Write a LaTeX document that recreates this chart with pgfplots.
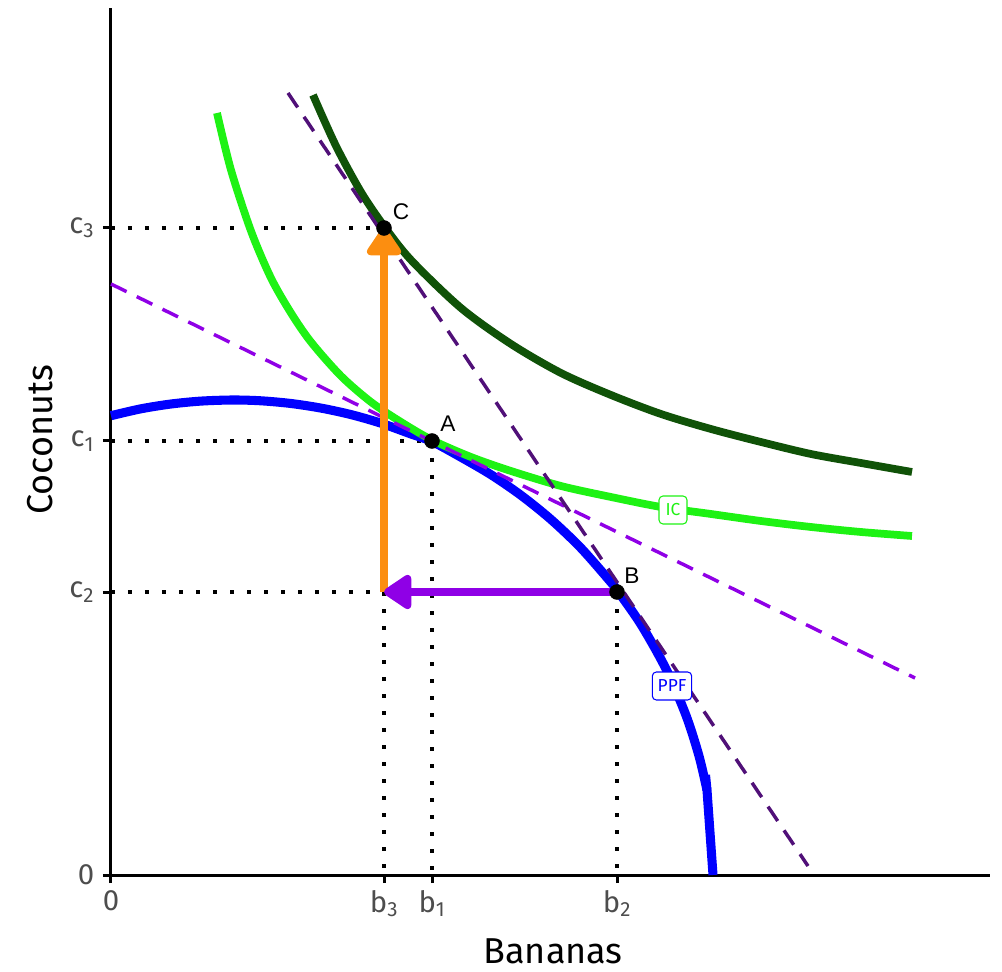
\documentclass[border=0pt]{standalone}
\usepackage{fontspec}
\setmainfont{Fira Sans}
\newfontfamily\arialfont{Liberation Sans}
\usepackage{pgfplots}
\pgfplotsset{compat=1.18}
\usetikzlibrary{arrows.meta}
\definecolor{ppfblue}{RGB}{0,0,255}
\definecolor{icgreen}{RGB}{30,242,20}
\definecolor{icdark}{RGB}{16,82,8}
\definecolor{lpurple}{RGB}{143,0,230}
\definecolor{dpurple}{RGB}{80,16,120}
\definecolor{arrorange}{RGB}{252,142,16}
\definecolor{tickgray}{RGB}{77,77,77}
\begin{document}
\begin{tikzpicture}
\useasboundingbox (-83.25pt,-72pt) rectangle (668.25pt,656.25pt);
\begin{axis}[
  at={(0,0)}, anchor=origin,
  scale only axis, width=659.25pt, height=650.25pt,
  xmin=0, xmax=879, ymin=0, ymax=867,
  clip=false,
  axis x line=bottom, axis y line=left,
  axis line style={-, line width=2.25pt, black},
  tick align=outside, major tick length=6pt,
  tick style={line width=2.25pt, black},
  xtick={0,273,321,506},
  xticklabels={0,b\textsubscript{3},b\textsubscript{1},b\textsubscript{2}},
  ytick={0,283,434,647},
  yticklabels={0,c\textsubscript{2},c\textsubscript{1},c\textsubscript{3}},
  ticklabel style={font=\fontsize{22}{26}\selectfont, text=tickgray},
  xticklabel style={yshift=-2pt},
  yticklabel style={xshift=-3pt},
  xlabel={Bananas}, ylabel={Coconuts},
  xlabel style={at={(axis description cs:0.503,0)}, anchor=base, inner sep=0pt, yshift=-66pt, font=\fontsize{27}{32}\selectfont},
  ylabel style={at={(axis description cs:0,0.502)}, anchor=base, inner sep=0pt, yshift=44pt, font=\fontsize{27}{32}\selectfont},
]
% dotted guides
\addplot[black, line width=3pt, dash pattern=on 3pt off 9.75pt] coordinates {(0,647) (273,647)};
\addplot[black, line width=3pt, dash pattern=on 3pt off 9.75pt] coordinates {(0,434) (321,434)};
\addplot[black, line width=3pt, dash pattern=on 3pt off 9.75pt] coordinates {(0,283) (506,283)};
\addplot[black, line width=3pt, dash pattern=on 3pt off 9.75pt] coordinates {(273,283) (273,0)};
\addplot[black, line width=3pt, dash pattern=on 3pt off 9.75pt] coordinates {(321,434) (321,0)};
\addplot[black, line width=3pt, dash pattern=on 3pt off 9.75pt] coordinates {(506,283) (506,0)};
% points B and C (under curves)
\addplot[only marks, mark=*, mark size=5.6pt, black] coordinates {(506,283) (273,647)};
% PPF
\addplot[ppfblue, line width=6.8pt, smooth, line join=round] coordinates {
 (0,459.3) (30,466.2) (60,471.0) (90,473.9) (122,475.0) (150,474.2) (180,471.5)
 (210,466.9) (240,460.4) (270,451.8) (300,441.0) (321,433.5) (350,417.8) (380,400.3)
 (410,379.7) (440,355.5) (470,326.9) (500,292.7) (506,285.0) (530,250.5) (555,206.0)
 (575,159.6) (588,119.0) (596,84.8)};
\addplot[ppfblue, line width=6.8pt, line cap=butt, line join=round] coordinates {(594.5,100) (596,84.8) (602,0)};
% IC (light green)
\addplot[icgreen, line width=5.8pt, smooth] coordinates {
 (106,762) (120,705) (140,644) (160,597) (180,562) (200,533) (230,499) (260,473)
 (290,453) (321,435) (360,418) (400,404) (450,389) (500,378) (550,368) (600,361)
 (650,354) (700,348) (750,343) (801,339)};
% IC2 (dark green)
\addplot[icdark, line width=5.8pt, smooth] coordinates {
 (202,780) (225,729) (250,683) (273,649) (300,615) (350,567) (400,531) (450,502)
 (500,480) (550,461) (600,446) (650,433) (700,421) (750,412) (801,403)};
% price lines
\addplot[lpurple, line width=2.6pt, dash pattern=on 13pt off 8.5pt] coordinates {(0,591) (804,197)};
\addplot[dpurple, line width=2.6pt, dash pattern=on 13pt off 8.5pt] coordinates {(177,782) (697,9)};
% arrows
\addplot[arrorange, line width=6pt, -{Triangle[width=29pt,length=23pt,round]}] coordinates {(273,283) (273,647)};
\addplot[lpurple, line width=6.5pt, -{Triangle[width=29pt,length=23pt,round]}] coordinates {(506,283) (273,283)};
% point A on top
\addplot[only marks, mark=*, mark size=5.6pt, black] coordinates {(321,434)};
% labels
\node[font=\arialfont\fontsize{17}{20}\selectfont] at (axis cs:337,451) {A};
\node[font=\arialfont\fontsize{17}{20}\selectfont] at (axis cs:521,299) {B};
\node[font=\arialfont\fontsize{17}{20}\selectfont] at (axis cs:290,663) {C};
\node[draw=icgreen, fill=white, text=icgreen, rounded corners=3pt, line width=0.8pt,
  font=\fontsize{13}{15}\selectfont, minimum height=21pt, minimum width=21pt, inner xsep=4pt, inner ysep=1pt] at (axis cs:562,365) {IC};
\node[draw=ppfblue, fill=white, text=ppfblue, rounded corners=3pt, line width=0.8pt,
  font=\fontsize{13}{15}\selectfont, minimum height=21pt, inner xsep=4pt, inner ysep=1pt] at (axis cs:561,189) {PPF};
\end{axis}
\end{tikzpicture}
\end{document}
